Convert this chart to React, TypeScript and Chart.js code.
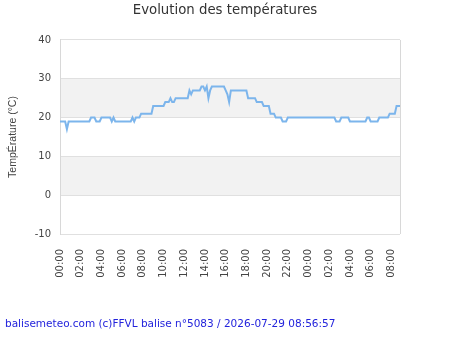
import { useEffect, useRef } from 'react';
import { Chart, registerables } from 'chart.js';

Chart.register(...registerables);

const chartTitle = 'Evolution des températures';
const yAxisTitle = 'TempÉrature (°C)';
const footerText = 'balisemeteo.com (c)FFVL balise n°5083 / 2026-07-29 08:56:57';

// Readings (local time, wraps past midnight into the next day) and temperatures in °C
const readingTimes = [
  '00:00', '00:30', '00:40', '00:50', '02:50', '03:00', '03:20', '03:30', '03:50', '04:00',
  '04:50', '05:00', '05:10', '05:20', '06:50', '07:00', '07:10', '07:20', '07:40', '07:50',
  '08:50', '09:00', '10:00', '10:10', '10:30', '10:40', '10:50', '11:00', '11:10', '12:20',
  '12:30', '12:40', '12:50', '13:30', '13:40', '13:50', '14:00', '14:10', '14:20', '14:30',
  '14:40', '15:50', '16:00', '16:10', '16:20', '16:30', '18:00', '18:10', '18:50', '19:00',
  '19:30', '19:40', '20:10', '20:20', '20:40', '20:50', '21:20', '21:30', '21:50', '22:00',
  '02:30', '02:40', '03:00', '03:10', '03:50', '04:00', '05:30', '05:40', '05:50', '06:00',
  '06:40', '06:50', '07:40', '07:50', '08:20', '08:30', '08:50',
];
const temperatures = [
  19, 19, 17, 19, 19, 20, 20, 19, 19, 20,
  20, 19, 20, 19, 19, 20, 19, 20, 20, 21,
  21, 23, 23, 24, 24, 25, 24, 24, 25, 25,
  27, 26, 27, 27, 28, 28, 27, 28, 25, 27,
  28, 28, 27, 26, 24, 27, 27, 25, 25, 24,
  24, 23, 23, 21, 21, 20, 20, 19, 19, 20,
  20, 19, 19, 20, 20, 19, 19, 20, 20, 19,
  19, 20, 20, 21, 21, 23, 23,
];

// Axis settings
const yTickValues = [-10, 0, 10, 20, 30, 40];
const xTickHours = [0, 2, 4, 6, 8, 10, 12, 14, 16, 18, 20, 22, 24, 26, 28, 30, 32];
const shadedBands = [
  [0, 10],
  [20, 30],
];

// Turn "HH:MM" strings into hours elapsed since the first midnight
function toElapsedHours(times: string[]): number[] {
  let dayOffset = 0;
  let previous = -1;
  return times.map((t) => {
    const [h, m] = t.split(':').map(Number);
    let value = h + m / 60;
    if (value + dayOffset < previous) dayOffset += 24;
    value += dayOffset;
    previous = value;
    return value;
  });
}

const formatHour = (v: number) => {
  const h = ((Math.round(v) % 24) + 24) % 24;
  return `${String(h).padStart(2, '0')}:00`;
};

const plotDecor = {
  id: 'plotDecor',
  beforeDraw(chart: any) {
    const { ctx, chartArea, scales } = chart;
    const y = scales.y;
    ctx.save();
    ctx.fillStyle = '#f2f2f2';
    for (const [lo, hi] of shadedBands) {
      const top = y.getPixelForValue(hi);
      const bottom = y.getPixelForValue(lo);
      ctx.fillRect(chartArea.left, top, chartArea.right - chartArea.left, bottom - top);
    }
    ctx.restore();
  },
  afterDraw(chart: any) {
    const { ctx, chartArea } = chart;
    ctx.save();
    ctx.strokeStyle = '#d8d8d8';
    ctx.lineWidth = 1;
    ctx.beginPath();
    const x = Math.round(chartArea.right) + 0.5;
    ctx.moveTo(x, chartArea.top);
    ctx.lineTo(x, chartArea.bottom);
    ctx.stroke();

    ctx.fillStyle = '#2323dc';
    ctx.font = '10.5px "DejaVu Sans"';
    ctx.textAlign = 'left';
    ctx.textBaseline = 'middle';
    ctx.fillText(footerText, 5, 324);
    ctx.restore();
  },
};

export default function App() {
  const canvasRef = useRef<HTMLCanvasElement | null>(null);

  useEffect(() => {
    if (!canvasRef.current) return;
    const hours = toElapsedHours(readingTimes);
    const points = hours.map((x, i) => ({ x, y: temperatures[i] }));

    const chart = new Chart(canvasRef.current, {
      type: 'line',
      data: {
        datasets: [
          {
            data: points,
            borderColor: '#7cb5ec',
            borderWidth: 2,
            pointRadius: 0,
            tension: 0,
            fill: false,
          },
        ],
      },
      plugins: [plotDecor],
      options: {
        responsive: false,
        animation: false,
        layout: { padding: 0 },
        plugins: {
          legend: { display: false },
          tooltip: { enabled: false },
          title: {
            display: true,
            text: chartTitle,
            color: '#333333',
            font: { family: '"DejaVu Sans"', size: 13.3, weight: 'normal' },
            padding: { top: 3, bottom: 21 },
          },
        },
        scales: {
          x: {
            type: 'linear',
            min: 0,
            max: hours[hours.length - 1],
            grid: { display: false },
            border: { display: false },
            afterFit(scale: any) {
              scale.height = 116;
            },
            afterBuildTicks(scale: any) {
              scale.ticks = xTickHours.map((value) => ({ value }));
            },
            ticks: {
              autoSkip: false,
              maxRotation: 90,
              minRotation: 90,
              padding: 7,
              color: '#444444',
              font: { family: '"DejaVu Sans"', size: 10 },
              callback: (value: any) => formatHour(Number(value)),
            },
          },
          y: {
            min: -10,
            max: 40,
            afterFit(scale: any) {
              scale.width = 60;
            },
            afterBuildTicks(scale: any) {
              scale.ticks = yTickValues.map((value) => ({ value }));
            },
            grid: { color: '#e0e0e0', drawTicks: false },
            border: { display: true, color: '#d8d8d8' },
            ticks: {
              padding: 9,
              color: '#444444',
              font: { family: '"DejaVu Sans"', size: 10 },
            },
            title: {
              display: true,
              text: yAxisTitle,
              color: '#444444',
              font: { family: '"Liberation Sans"', size: 10.5 },
              padding: { top: 7, bottom: 0 },
            },
          },
          // empty right-hand axis that only reserves the margin beside the plot
          yMargin: {
            type: 'linear',
            position: 'right',
            display: true,
            min: -10,
            max: 40,
            grid: { display: false, drawTicks: false },
            border: { display: false },
            ticks: { display: false },
            afterFit(scale: any) {
              scale.width = 50;
            },
          },
        },
      },
    });
    return () => chart.destroy();
  }, []);

  return (
    <div style={{ position: 'fixed', left: 0, top: 0, width: 450, height: 350, background: '#fff' }}>
      <canvas ref={canvasRef} width={450} height={350} style={{ width: 450, height: 350 }} />
    </div>
  );
}
